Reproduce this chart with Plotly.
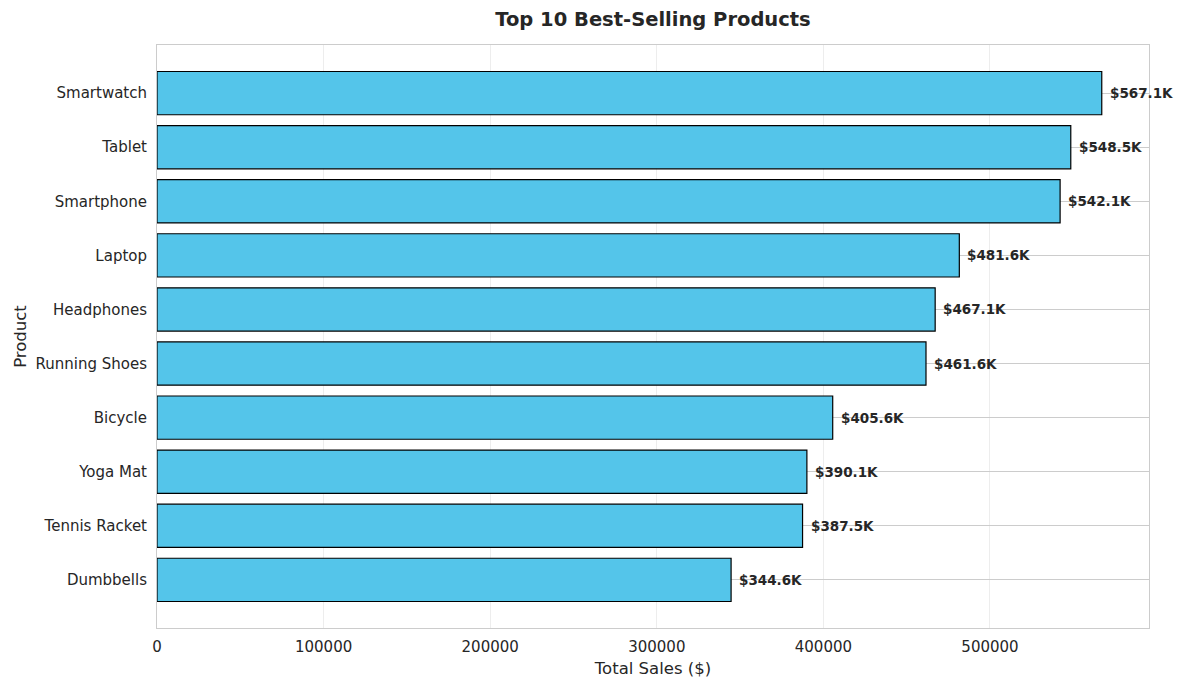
import plotly.graph_objects as go

# top 10 products by total sales, highest first
products = ["Smartwatch", "Tablet", "Smartphone", "Laptop", "Headphones",
            "Running Shoes", "Bicycle", "Yoga Mat", "Tennis Racket", "Dumbbells"]
total_sales = [567100, 548500, 542100, 481600, 467100,
               461600, 405600, 390100, 387500, 344600]
sales_labels = ["$%.1fK" % (v / 1000) for v in total_sales]

x_ticks = [0, 100000, 200000, 300000, 400000, 500000]

text_color = "#262626"
font_family = "DejaVu Sans"

fig = go.Figure()

fig.add_trace(
    go.Bar(
        x=total_sales,
        y=products,
        orientation="h",
        marker=dict(color="#54C5EA", line=dict(color="black", width=1.2)),
        hovertemplate="%{y}: %{x}<extra></extra>",
    )
)

# value labels just to the right of each bar
for product, value, label in zip(products, total_sales, sales_labels):
    fig.add_annotation(
        x=value, y=product,
        text="<b>%s</b>" % label,
        xanchor="left", yanchor="middle",
        xshift=6,
        showarrow=False,
        font=dict(size=13.5, color=text_color, family=font_family),
    )

# the page body adds 8px, so margins are shifted by that much
n = len(products)
fig.update_layout(
    width=1184, height=686,
    margin=dict(l=149, r=43, t=37, b=66),
    paper_bgcolor="white",
    plot_bgcolor="white",
    bargap=0.2,
    showlegend=False,
    font=dict(family=font_family, color=text_color, size=15),
    title=dict(
        text="<b>Top 10 Best-Selling Products</b>",
        x=0.5, xref="paper", xanchor="center",
        y=1 - 11 / 686, yref="container", yanchor="middle",
        font=dict(size=19.5, color=text_color, family=font_family),
    ),
)

fig.update_xaxes(
    range=[0, max(total_sales) * 1.05],
    tickvals=x_ticks,
    tickformat="d",
    showgrid=True, gridcolor="#EDEDED", gridwidth=1,
    zeroline=False,
    showline=True, linecolor="#CCCCCC", linewidth=1, mirror=True,
    ticks="", ticklabelstandoff=5,
    title=dict(text="Total Sales ($)", font=dict(size=16.5), standoff=7),
    tickfont=dict(size=15),
)

fig.update_yaxes(
    categoryorder="array", categoryarray=products,
    range=[n - 1 + 0.89, -0.89],
    showgrid=True, gridcolor="#CCCCCC", gridwidth=1,
    zeroline=False,
    showline=True, linecolor="#CCCCCC", linewidth=1, mirror=True,
    ticks="", ticklabelstandoff=6,
    title=dict(text="Product", font=dict(size=16.5), standoff=4),
    tickfont=dict(size=15),
)

fig.write_html("out.html")
